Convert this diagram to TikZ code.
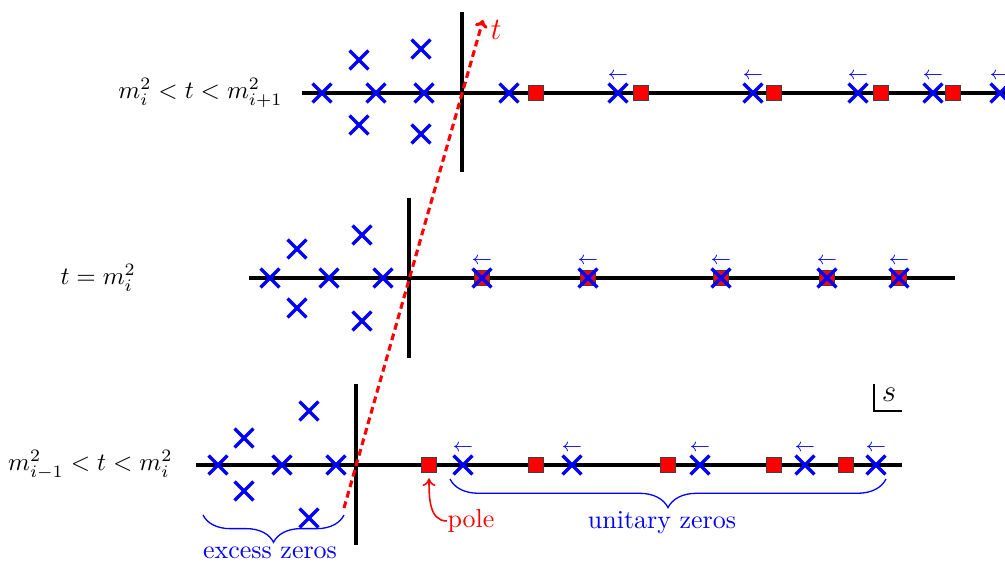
\documentclass[tikz,border=0pt]{standalone}
\usetikzlibrary{shapes.misc,decorations.pathreplacing,arrows.meta}
\tikzset{
  zero/.style={cross out, draw=blue, line width=1.25pt, minimum size=7.3pt, inner sep=0pt, outer sep=0pt},
  polebox/.style={rectangle, fill=red, draw=black!75, line width=0.4pt, minimum size=5.8pt, inner sep=0pt},
  axis/.style={line width=1.4pt},
  mv/.style={blue, font=\scriptsize, inner sep=0pt},
  tpath/.style={red, line width=1.2pt, dash pattern=on 2.6pt off 1.6pt, -{To[length=3pt,width=5pt]}},
  rowlab/.style={inner sep=0pt, scale=0.96},
  bracestyle/.style={blue, line width=0.5pt, decorate},
}
\begin{document}
\begin{tikzpicture}[x=0.385pt,y=-0.385pt]
\clip (0,0) rectangle (1005,563);
% axes
\coordinate (h1a) at (302,93);  \coordinate (h1b) at (1012,93);
\coordinate (v1a) at (462,12);  \coordinate (v1b) at (462,172);
\coordinate (h2a) at (249,278); \coordinate (h2b) at (955,278);
\coordinate (v2a) at (409,198); \coordinate (v2b) at (409,358);
\coordinate (h3a) at (196,465); \coordinate (h3b) at (902,465);
\coordinate (v3a) at (356,384); \coordinate (v3b) at (356,545);
\draw[axis] (h1a) -- (h1b);
\draw[axis] (v1a) -- (v1b);
\draw[axis] (h2a) -- (h2b);
\draw[axis] (v2a) -- (v2b);
\draw[axis] (h3a) -- (h3b);
\draw[axis] (v3a) -- (v3b);
% t path
\coordinate (tstart) at (344,508);
\coordinate (tend) at (483,20);
\draw[tpath] (tstart) -- (tend);
\node[red, anchor=west, inner sep=0pt, font=\large] (tlab) at (490,30) {$t$};
% row labels
\node[rowlab, anchor=east] (lab1) at (283,93) {$m_i^2<t<m_{i+1}^2$};
\node[rowlab, anchor=west] (lab2) at (60,278) {$t=m_i^2$};
\node[rowlab, anchor=east] (lab3) at (173,465) {$m_{i-1}^2<t<m_i^2$};
% ---- top row
\foreach \px/\py [count=\k] in {322/93,376/93,424/93,359/60,359/125,421/49,421/134}
  \node[zero] (za\k) at (\px,\py) {};
\foreach \px [count=\k] in {536,641,774,881,953}
  \node[polebox] (pa\k) at (\px,93) {};
\node[zero] (ua0) at (509,93) {};
\foreach \px [count=\k] in {618,753,858,933,1000}{
  \node[zero] (ua\k) at (\px,93) {};
  \node[mv] (aa\k) at (\px,76) {$\leftarrow$};
}
% ---- middle row
\foreach \px/\py [count=\k] in {270/278,329/278,383/278,297/249,297/308,362/235,362/321}
  \node[zero] (zb\k) at (\px,\py) {};
\foreach \px [count=\k] in {482,588,721,827,899}{
  \node[polebox] (pb\k) at (\px,278) {};
  \node[zero] (ub\k) at (\px,278) {};
  \node[mv] (ab\k) at (\px,261) {$\leftarrow$};
}
% ---- bottom row
\foreach \px/\py [count=\k] in {218/465,282/465,336/465,244/438,244/491,309/411,309/518}
  \node[zero] (zc\k) at (\px,\py) {};
\node[polebox] (pole) at (429,465) {};
\foreach \px [count=\k] in {536,668,774,846}
  \node[polebox] (pc\k) at (\px,465) {};
\foreach \px [count=\k] in {463,572,700,805,876}{
  \node[zero] (uc\k) at (\px,465) {};
  \node[mv] (ac\k) at (\px,448) {$\leftarrow$};
}
% braces
\coordinate (exA) at (344,515); \coordinate (exB) at (203,515);
\draw[bracestyle, decoration={brace, amplitude=10.5pt}] (exA) -- (exB);
\node[blue, inner sep=0pt] (extxt) at (270,553) {excess zeros};
\coordinate (unA) at (886,479); \coordinate (unB) at (450,479);
\draw[bracestyle, decoration={brace, amplitude=11pt}] (unA) -- (unB);
\node[blue, inner sep=0pt] (untxt) at (662,523) {unitary zeros};
% pole label
\node[red, inner sep=0pt, anchor=west] (poletxt) at (447,521) {pole};
\draw[red, line width=0.6pt, -{To[length=3pt,width=5pt]}] (poletxt.west) to[out=180, in=-90] ([yshift=-2pt]pole.south);
% s corner
\coordinate (sA) at (874,384); \coordinate (sB) at (874,411); \coordinate (sC) at (902,411);
\draw[line width=0.8pt] (sA) -- (sB) -- (sC);
\node[inner sep=0pt, font=\large] (slab) at (889,395) {$s$};
\end{tikzpicture}
\end{document}
